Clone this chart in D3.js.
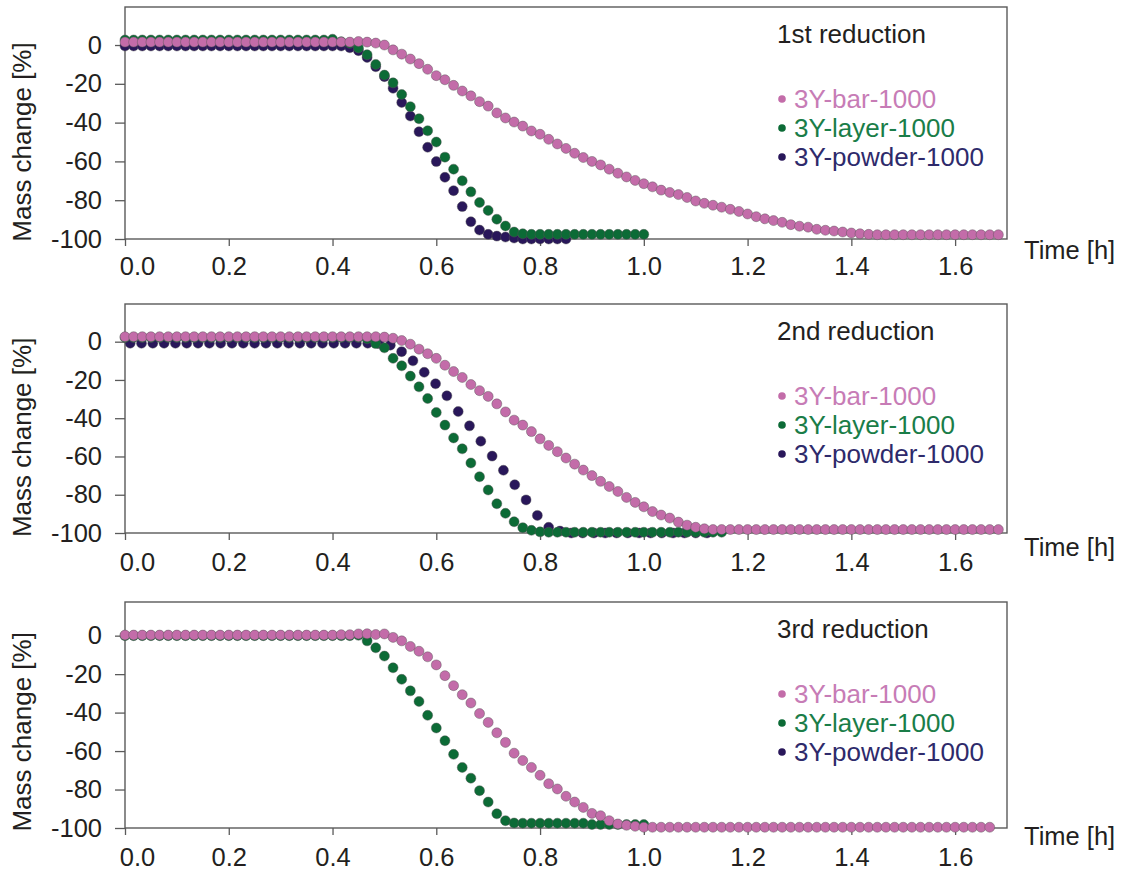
<!DOCTYPE html>
<html lang="en">
<head>
<meta charset="UTF-8">
<title>Mass change during reduction</title>
<script src="https://cdn.jsdelivr.net/npm/d3@7/dist/d3.min.js"></script>
<style>
  body { margin: 0; background: #fff; }
  svg text { font-family: "Liberation Sans", Arial, sans-serif; fill: #231f20; }
</style>
</head>
<body>
<svg width="1125" height="874"></svg>
<script>
// sampling: one reading per minute unless noted
const minute = 1 / 60;

const seriesNames = ["3Y-bar-1000", "3Y-layer-1000", "3Y-powder-1000"];
const dotColors = ["#c36ca9", "#0c6b36", "#29175a"];
const textColors = ["#c77cb6", "#1a7d48", "#2e2a6b"];
const panelTitles = ["1st reduction", "2nd reduction", "3rd reduction"];
const xTicks = [0, 0.2, 0.4, 0.6, 0.8, 1.0, 1.2, 1.4, 1.6];
const yTicks = [-100, -80, -60, -40, -20, 0];

// 1st reduction
const red1Bar = [
  1.5, 1.5, 1.5, 1.5, 1.5, 1.5, 1.5, 1.5, 1.5, 1.5, 1.5, 1.5, 1.5, 1.5, 1.5, 1.5, 1.5, 1.5, 1.5, 1.5,
  1.5, 1.5, 1.5, 1.5, 1.5, 1.5, 1.5, 1.8, 1.5, 1.0, 0, -2.5, -4.7, -7.2, -9.6, -12.5, -15.8, -17.9, -20.8, -23.7,
  -26.2, -29.2, -31.5, -35, -37.6, -39.7, -41.8, -44.3, -46, -48.6, -51, -53.3, -55.8, -58, -60, -61.8, -64, -66.1, -68, -69.8,
  -71.5, -73.1, -74.8, -76, -77.1, -78.6, -80.4, -81.6, -82.6, -83.6, -84.7, -85.8, -87.1, -88.5, -89.6, -90.5, -91.4, -92.6, -93.4, -93.9,
  -95, -95.5, -95.9, -96.4, -96.9, -97.3, -97.6, -97.8, -97.8, -97.8, -97.8, -97.8, -97.8, -97.8, -97.8, -97.8, -97.8, -97.8, -97.8, -97.8,
  -97.8, -97.8
];
const red1Layer = [
  2.6, 2.6, 2.6, 2.6, 2.6, 2.6, 2.6, 2.6, 2.6, 2.6, 2.6, 2.6, 2.6, 2.6, 2.6, 2.6, 2.6, 2.6, 2.6, 2.6,
  2.6, 2.6, 2.6, 2.6, 3.0, 1.7, 0.9, -1.5, -5, -10, -15.5, -19.5, -25.5, -31.8, -38, -44.2, -50, -57.8, -64, -70,
  -75.7, -81.2, -85.3, -89.8, -93.3, -96.4, -97.3, -97.6, -97.6, -97.6, -97.6, -97.6, -97.6, -97.6, -97.6, -97.6, -97.6, -97.6, -97.6, -97.6,
  -97.6
];
const red1Powder = [
  -0.5, -0.5, -0.5, -0.5, -0.5, -0.5, -0.5, -0.5, -0.5, -0.5, -0.5, -0.5, -0.5, -0.5, -0.5, -0.5, -0.5, -0.5, -0.5, -0.5,
  -0.5, -0.5, -0.5, -0.5, -0.5, -0.5, -1.4, -2.9, -6.4, -11.2, -16.3, -22.3, -29.6, -36.6, -44.7, -52.7, -60.1, -68.2, -75.1, -83.3,
  -91.1, -95.4, -97.6, -98.5, -99, -99.5, -100, -100, -100, -100, -100, -100
];

// 2nd reduction
const red2Bar = [
  2.6, 2.6, 2.6, 2.6, 2.6, 2.6, 2.6, 2.6, 2.6, 2.6, 2.6, 2.6, 2.6, 2.6, 2.6, 2.6, 2.6, 2.6, 2.6, 2.6,
  2.6, 2.6, 2.6, 2.6, 2.6, 2.6, 2.6, 2.6, 2.6, 2.6, 2.4, 1.8, 0.6, -1.3, -3.9, -6.3, -8.7, -12.3, -15.6, -18.7,
  -22.4, -25.6, -28.6, -32.5, -36.7, -41, -43.6, -47, -50.8, -54.2, -57.5, -60.8, -64, -67.1, -70, -73, -75.7, -78.3, -81.4, -84,
  -86.3, -88.8, -90.6, -92.2, -94.3, -95.9, -97, -97.8, -98.2, -98.2, -98.2, -98.2, -98.2, -98.2, -98.2, -98.2, -98.2, -98.2, -98.2, -98.2,
  -98.2, -98.2, -98.2, -98.2, -98.2, -98.2, -98.2, -98.2, -98.2, -98.2, -98.2, -98.2, -98.2, -98.2, -98.2, -98.2, -98.2, -98.2, -98.2, -98.2,
  -98.2, -98.2
];
const red2Layer = [
  2.2, 2.2, 2.2, 2.2, 2.2, 2.2, 2.2, 2.2, 2.2, 2.2, 2.2, 2.2, 2.2, 2.2, 2.2, 2.2, 2.2, 2.2, 2.2, 2.2,
  2.2, 2.2, 2.2, 2.2, 2.2, 2.2, 2.2, 2.2, 1.5, -1.0, -3.2, -8.7, -12.6, -18, -23.6, -29.7, -37, -43.6, -50.3, -56,
  -63.4, -70.6, -77.5, -84.7, -89.7, -94.1, -97.2, -98.6, -99.4, -99.6, -99.6, -99.6, -99.6, -99.6, -99.6, -99.6, -99.6, -99.6, -99.6, -99.6,
  -99.6, -99.6, -99.6, -99.6, -99.6, -99.6, -99.6, -99.6, -99.6, -99.6
];
// powder logged about every 1.3 min in this run
const red2PowderStart = 0.01, red2PowderStep = 0.0218;
const red2Powder = [
  -0.8, -0.8, -0.8, -0.8, -0.8, -0.8, -0.8, -0.8, -0.8, -0.8, -0.8, -0.8, -0.8, -0.8, -0.8, -0.8, -0.8, -0.8, -0.8, -0.8,
  -0.8, -0.8, -1.0, -1.8, -5.2, -10, -16, -22, -28.3, -36.5, -44, -52, -59.8, -67.2, -74.8, -82.7, -90.8, -97, -99, -100,
  -100, -100, -100, -100, -100, -100, -100, -100, -100, -100, -100, -100
];

// 3rd reduction (no powder run)
const red3Bar = [
  0.3, 0.3, 0.3, 0.3, 0.3, 0.3, 0.3, 0.3, 0.3, 0.3, 0.3, 0.3, 0.3, 0.3, 0.3, 0.3, 0.3, 0.3, 0.3, 0.3,
  0.3, 0.3, 0.3, 0.3, 0.3, 0.5, 0.5, 0.9, 1.0, 0.6, 0.9, -0.9, -2.7, -5.6, -8.1, -11, -15.2, -20.8, -26, -30.7,
  -35, -40.5, -45.1, -50.5, -55.5, -61.1, -64.9, -68.5, -72.6, -77, -79.7, -83.5, -86.5, -89.3, -92.4, -93.6, -96.2, -97.9, -98.6, -99.1,
  -99.6, -99.6, -99.6, -99.6, -99.6, -99.6, -99.6, -99.6, -99.6, -99.6, -99.6, -99.6, -99.6, -99.6, -99.6, -99.6, -99.6, -99.6, -99.6, -99.6,
  -99.6, -99.6, -99.6, -99.6, -99.6, -99.6, -99.6, -99.6, -99.6, -99.6, -99.6, -99.6, -99.6, -99.6, -99.6, -99.6, -99.6, -99.6, -99.6, -99.6,
  -99.6
];
const red3Layer = [
  0, 0, 0, 0, 0, 0, 0, 0, 0, 0, 0, 0, 0, 0, 0, 0, 0, 0, 0, 0,
  0, 0, 0, 0, 0, 0, 0, 0.2, -2.7, -6.3, -10.6, -16.7, -22.7, -28.7, -34.2, -41.4, -48, -54.6, -61.7, -68.5,
  -74.1, -80.6, -86.5, -92.6, -96.2, -97.4, -97.5, -97.5, -97.5, -97.5, -97.5, -97.5, -97.5, -97.5, -98.2, -98.2, -98.2, -98.2, -98.2, -98.2,
  -98.2
];
const red3Powder = [];

function toPoints(values, start, step) {
  return values.map((v, i) => ({ t: start + i * step, v: v }));
}

const panelData = [
  [toPoints(red1Bar, 0, minute), toPoints(red1Layer, 0, minute), toPoints(red1Powder, 0, minute)],
  [toPoints(red2Bar, 0, minute), toPoints(red2Layer, 0, minute), toPoints(red2Powder, red2PowderStart, red2PowderStep)],
  [toPoints(red3Bar, 0, minute), toPoints(red3Layer, 0, minute), toPoints(red3Powder, 0, minute)]
];

// panel layout in pixels
const layout = [
  { top: 7,   bottom: 239, yMax: 19.6, labelPad: 10.5, timeDy: 11 },
  { top: 304, bottom: 533, yMax: 19.7, labelPad: 12.5, timeDy: 14 },
  { top: 602, bottom: 828, yMax: 17.5, labelPad: 13,   timeDy: 8 }
];
const left = 125, right = 1007;

const svg = d3.select("svg");
const x = d3.scaleLinear().domain([0, 1.7]).range([left, right]);

layout.forEach(function (p, pi) {
  const y = d3.scaleLinear().domain([-100, p.yMax]).range([p.bottom, p.top]);
  const g = svg.append("g");

  g.append("rect")
    .attr("x", left).attr("y", p.top)
    .attr("width", right - left).attr("height", p.bottom - p.top)
    .attr("fill", "none").attr("stroke", "#5a5a5a").attr("stroke-width", 1.4);

  // plain hyphen for negatives, as in the original
  const yAxis = g.append("g")
    .attr("transform", "translate(" + left + ",0)")
    .call(d3.axisLeft(y).tickValues(yTicks).tickSize(10).tickPadding(13).tickFormat(d => String(d)));
  yAxis.select(".domain").remove();
  yAxis.selectAll("line").attr("stroke", "#5a5a5a").attr("stroke-width", 1.3);
  yAxis.selectAll("text").attr("font-size", 25.5).attr("fill", "#231f20")
    .attr("font-family", '"Liberation Sans", Arial, sans-serif');

  const xAxis = g.append("g")
    .attr("transform", "translate(0," + p.bottom + ")")
    .call(d3.axisBottom(x).tickValues(xTicks).tickSize(7).tickPadding(p.labelPad).tickFormat(d => d.toFixed(1)));
  xAxis.select(".domain").remove();
  xAxis.selectAll("line").attr("stroke", "#5a5a5a").attr("stroke-width", 1.3);
  xAxis.selectAll("text").attr("font-size", 25.5).attr("fill", "#231f20")
    .attr("font-family", '"Liberation Sans", Arial, sans-serif')
    .attr("x", d => d === 0 ? 12 : 0);

  g.append("text")
    .attr("transform", "translate(31," + ((y(0) + y(-100)) / 2) + ") rotate(-90)")
    .attr("text-anchor", "middle")
    .attr("font-size", 26)
    .text("Mass change [%]");

  g.append("text")
    .attr("x", 1024).attr("y", p.bottom + p.timeDy)
    .attr("dominant-baseline", "central")
    .attr("font-size", 25.5)
    .text("Time [h]");

  // markers: powder first, bar last (on top)
  [2, 1, 0].forEach(function (si) {
    g.append("g").selectAll("circle")
      .data(panelData[pi][si])
      .join("circle")
      .attr("cx", d => x(d.t))
      .attr("cy", d => y(d.v))
      .attr("r", 5)
      .attr("fill", dotColors[si])
      .attr("stroke", "rgba(85,85,85,0.55)")
      .attr("stroke-width", 0.8);
  });

  g.append("text")
    .attr("x", 777).attr("y", p.top + 27)
    .attr("dominant-baseline", "central")
    .attr("font-size", 26)
    .text(panelTitles[pi]);

  const legend = g.append("g");
  seriesNames.forEach(function (name, si) {
    const ly = p.top + 92 + si * 29;
    legend.append("circle")
      .attr("cx", 782).attr("cy", ly).attr("r", 3.8)
      .attr("fill", dotColors[si]);
    legend.append("text")
      .attr("x", 794).attr("y", ly)
      .attr("dominant-baseline", "central")
      .attr("font-size", 26)
      .style("fill", textColors[si])
      .text(name);
  });
});
</script>
</body>
</html>
